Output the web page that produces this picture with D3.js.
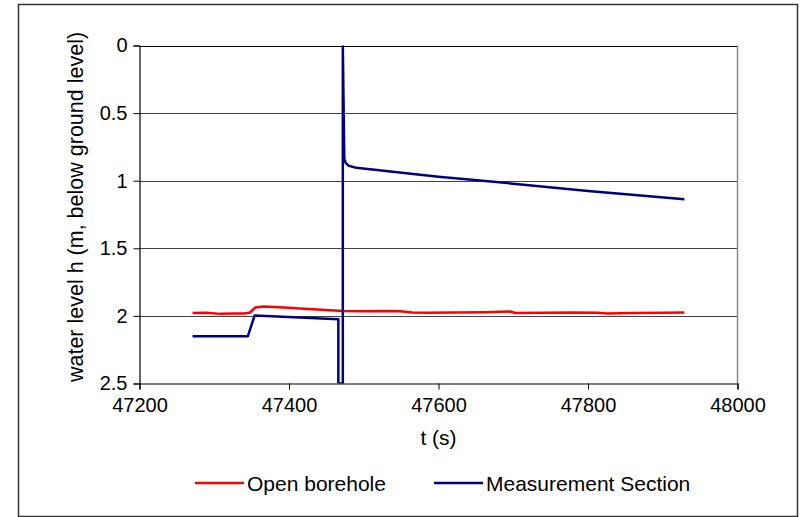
<!DOCTYPE html>
<html>
<head>
<meta charset="utf-8">
<script src="https://cdn.jsdelivr.net/npm/d3@7"></script>
<style>
  body { margin: 0; background: #fff; }
  text { font-family: "Liberation Sans", Arial, sans-serif; fill: #000; }
</style>
</head>
<body>
<div id="chart"></div>
<script>
// Chart values
var xTicks = [47200, 47400, 47600, 47800, 48000];
var yTicks = [0, 0.5, 1, 1.5, 2, 2.5];

var openT = [47271, 47290, 47308, 47325, 47340, 47348, 47355, 47366, 47380, 47400, 47420, 47438, 47455, 47473, 47500, 47530, 47549, 47565, 47585, 47620, 47660, 47696, 47703, 47740, 47780, 47813, 47826, 47860, 47900, 47929];
var openH = [1.978, 1.976, 1.985, 1.982, 1.983, 1.975, 1.938, 1.93, 1.935, 1.94, 1.948, 1.953, 1.958, 1.964, 1.966, 1.963, 1.965, 1.975, 1.977, 1.975, 1.973, 1.968, 1.979, 1.977, 1.974, 1.976, 1.982, 1.979, 1.977, 1.975];

var measT = [47271, 47345, 47354, 47466, 47466, 47472, 47472, 47474, 47476, 47480, 47490, 47600, 47700, 47800, 47929];
var measH = [2.15, 2.15, 1.997, 2.025, 2.5, 2.5, 0, 0.84, 0.87, 0.89, 0.905, 0.97, 1.022, 1.077, 1.137];

var svgWidth = 800;
var svgHeight = 517;

var plot = { left: 139.5, top: 45.5, right: 737.5, bottom: 383.5 };

var svg = d3.select("#chart")
    .append("svg")
    .attr("width", svgWidth)
    .attr("height", svgHeight);

// outer frame
svg.append("rect")
    .attr("x", 18.5)
    .attr("y", 4.5)
    .attr("width", 779)
    .attr("height", 512)
    .attr("fill", "#fff")
    .attr("stroke", "#333")
    .attr("stroke-width", 1.5);

var x = d3.scaleLinear().domain([47200, 48000]).range([plot.left, plot.right]);
var y = d3.scaleLinear().domain([0, 2.5]).range([plot.top, plot.bottom]);

// gridlines
svg.append("g")
    .selectAll("line")
    .data(yTicks.slice(0, -1))
    .enter()
    .append("line")
    .attr("x1", plot.left)
    .attr("x2", plot.right)
    .attr("y1", d => Math.round(y(d)) + 0.5)
    .attr("y2", d => Math.round(y(d)) + 0.5)
    .attr("stroke", d => d === 0 ? "#000" : "#444")
    .attr("stroke-width", 1);

// right border of plot area
svg.append("line")
    .attr("x1", plot.right).attr("x2", plot.right)
    .attr("y1", plot.top).attr("y2", plot.bottom)
    .attr("stroke", "#888")
    .attr("stroke-width", 1.5);

// axes
var leftAxis = d3.axisLeft(y).tickValues(yTicks).tickSize(6).tickPadding(6)
    .tickFormat(d => String(d));
var bottomAxis = d3.axisBottom(x).tickValues(xTicks).tickSize(6).tickPadding(8)
    .tickFormat(d => String(d));

var gy = svg.append("g")
    .attr("transform", `translate(${plot.left},0)`)
    .call(leftAxis);
var gx = svg.append("g")
    .attr("transform", `translate(0,${plot.bottom})`)
    .call(bottomAxis);

[gx, gy].forEach(g => {
    g.select(".domain").attr("stroke", "#000").attr("stroke-width", 1.2);
    g.selectAll(".tick line").attr("stroke", "#000");
    g.selectAll("text")
        .style("font-family", "'Liberation Sans', Arial, sans-serif")
        .style("font-size", "20px")
        .attr("fill", "#000");
});

// clip
svg.append("clipPath").attr("id", "clip")
    .append("rect")
    .attr("x", plot.left).attr("y", plot.top)
    .attr("width", plot.right - plot.left)
    .attr("height", plot.bottom - plot.top);

var line = d3.line()
    .x(d => x(d[0]))
    .y(d => y(d[1]));

var openData = openT.map((t, i) => [t, openH[i]]);
var measData = measT.map((t, i) => [t, measH[i]]);

svg.append("path")
    .datum(openData)
    .attr("d", line)
    .attr("clip-path", "url(#clip)")
    .attr("fill", "none")
    .attr("stroke", "#ff0000")
    .attr("stroke-width", 2.5)
    .attr("stroke-linejoin", "round");

svg.append("path")
    .datum(measData)
    .attr("d", line)
    .attr("clip-path", "url(#clip)")
    .attr("fill", "none")
    .attr("stroke", "#000080")
    .attr("stroke-width", 2.5)
    .attr("stroke-linejoin", "round");

// axis titles
svg.append("text")
    .attr("x", (plot.left + plot.right) / 2)
    .attr("y", 445)
    .attr("text-anchor", "middle")
    .style("font-size", "21px")
    .text("t (s)");

svg.append("text")
    .attr("transform", "translate(83,207) rotate(-90)")
    .attr("text-anchor", "middle")
    .style("font-size", "21.5px")
    .text("water level h (m, below ground level)");

// legend
var legend = [
    { name: "Open borehole", color: "#ff0000", x: 195 },
    { name: "Measurement Section", color: "#000080", x: 434 }
];
var lg = svg.append("g").selectAll("g")
    .data(legend)
    .enter()
    .append("g")
    .attr("transform", d => `translate(${d.x},483)`);
lg.append("line")
    .attr("x1", 0).attr("x2", 49)
    .attr("y1", 0).attr("y2", 0)
    .attr("stroke", d => d.color)
    .attr("stroke-width", 2.5);
lg.append("text")
    .attr("x", 52)
    .attr("y", 8)
    .style("font-size", "21px")
    .text(d => d.name);
</script>
</body>
</html>
